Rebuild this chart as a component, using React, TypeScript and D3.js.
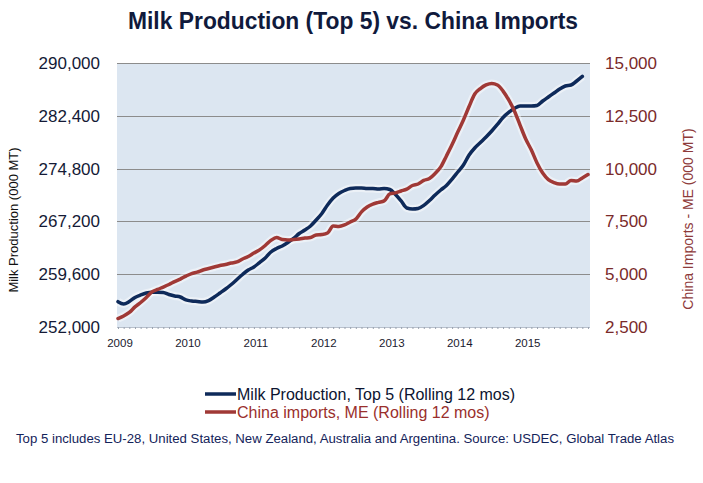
import React, { useEffect, useRef } from 'react';
import * as d3 from 'd3';

// Rolling 12-month totals, Jan 2009 .. Dec 2015 (000 MT)
const milkTop5 = [
  255640, 255310, 255670, 256250, 256610, 256890, 257000, 257000, 256970, 256680, 256460, 256320,
  255890, 255740, 255670, 255600, 255810, 256320, 256890, 257470, 258120, 258840, 259560, 260200,
  260640, 261280, 261930, 262800, 263300, 263660, 264160, 264740, 265460, 265960, 266540, 267400,
  268340, 269560, 270570, 271220, 271650, 271940, 272010, 272010, 271940, 271940, 271860, 271940,
  271790, 271070, 270140, 269130, 268990, 269060, 269500, 270210, 271000, 271720, 272370, 273300,
  274310, 275320, 276760, 277770, 278560, 279350, 280210, 281150, 282160, 282880, 283450, 283810,
  283810, 283810, 283880, 284530, 285110, 285680, 286260, 286690, 286830, 287410, 288060,
];

const chinaImports = [
  2900, 3020, 3190, 3450, 3660, 3900, 4160, 4280, 4390, 4510, 4650, 4770,
  4910, 5030, 5100, 5200, 5270, 5340, 5410, 5460, 5530, 5580, 5720, 5840,
  6000, 6150, 6360, 6600, 6740, 6640, 6620, 6640, 6670, 6710, 6740, 6860,
  6880, 6950, 7280, 7260, 7330, 7470, 7610, 7950, 8180, 8320, 8400, 8470,
  8800, 8850, 8940, 9030, 9200, 9270, 9440, 9530, 9770, 10080, 10600, 11140,
  11730, 12300, 12940, 13530, 13790, 13960, 14030, 13960, 13670, 13250, 12730, 12060,
  11400, 10880, 10270, 9790, 9480, 9340, 9270, 9270, 9440, 9410, 9560, 9720,
];

const years = ['2009', '2010', '2011', '2012', '2013', '2014', '2015'];
const leftTicks = [252000, 259600, 267200, 274800, 282400, 290000];
const rightTicks = [2500, 5000, 7500, 10000, 12500, 15000];

const title = 'Milk Production (Top 5) vs. China Imports';
const leftLabel = 'Milk Production (000 MT)';
const rightLabel = 'China Imports - ME (000 MT)';
const legendItems = ['Milk Production, Top 5 (Rolling 12 mos)', 'China imports, ME (Rolling 12 mos)'];
const footnote =
  'Top 5 includes EU-28, United States, New Zealand, Australia and Argentina. Source: USDEC, Global Trade Atlas';

const W = 703;
const H = 483;
const FONT = '"Liberation Sans", Arial, sans-serif';
const NAVY = '#0e2a5a';
const RED = '#a03936';

export default function App() {
  const svgRef = useRef<SVGSVGElement>(null);

  useEffect(() => {
    if (!svgRef.current) return;
    const svg = d3.select(svgRef.current);
    svg.selectAll('*').remove();

    const left = 117, right = 590, top = 63, bottom = 327;

    const x = d3.scaleLinear().domain([0, 83]).range([118, 588]);
    const yL = d3.scaleLinear().domain([252000, 290000]).range([bottom, top]);
    const yR = d3.scaleLinear().domain([2500, 15000]).range([bottom, top]);

    // title
    svg.append('text')
      .attr('x', 353).attr('y', 29)
      .attr('text-anchor', 'middle')
      .attr('font-family', FONT).attr('font-weight', 'bold').attr('font-size', 24)
      .attr('fill', '#101a3c')
      .attr('textLength', 450).attr('lengthAdjust', 'spacingAndGlyphs')
      .text(title);

    // plot background
    svg.append('rect')
      .attr('x', left).attr('y', top)
      .attr('width', right - left).attr('height', bottom - top)
      .attr('fill', '#dce6f1');

    // gridlines
    svg.append('g')
      .selectAll('line')
      .data(leftTicks.slice(1))
      .enter()
      .append('line')
      .attr('x1', left).attr('x2', right)
      .attr('y1', d => Math.round(yL(d)) + 0.5).attr('y2', d => Math.round(yL(d)) + 0.5)
      .attr('stroke', '#8c8c8c').attr('stroke-width', 1);

    // bottom axis with monthly minor ticks
    const xAxis = d3.axisBottom(x)
      .tickValues(d3.range(0, 84))
      .tickSize(2)
      .tickFormat(() => '');
    const gx = svg.append('g').attr('transform', `translate(0,${bottom})`).call(xAxis);
    gx.select('.domain').attr('stroke', '#b8c0cc').attr('d', `M${left},0.5H${right}`);
    gx.selectAll('.tick line').attr('stroke', '#9aa3b0');

    svg.append('g')
      .selectAll('text')
      .data(years)
      .enter()
      .append('text')
      .attr('x', (d, i) => x(i * 12) + 2)
      .attr('y', 347)
      .attr('text-anchor', 'middle')
      .attr('font-family', FONT).attr('font-size', 11.5)
      .attr('fill', '#1a1a2e')
      .text(d => d);

    // left axis labels
    svg.append('g')
      .selectAll('text')
      .data(leftTicks)
      .enter()
      .append('text')
      .attr('x', 100).attr('y', d => yL(d) + 6)
      .attr('text-anchor', 'end')
      .attr('font-family', FONT).attr('font-size', 17)
      .attr('fill', '#141a36')
      .text(d => d3.format(',')(d));

    // right axis labels
    svg.append('g')
      .selectAll('text')
      .data(rightTicks)
      .enter()
      .append('text')
      .attr('x', 605).attr('y', d => yR(d) + 6)
      .attr('text-anchor', 'start')
      .attr('font-family', FONT).attr('font-size', 17)
      .attr('fill', '#7a2a2a')
      .text(d => d3.format(',')(d));

    // axis titles
    svg.append('text')
      .attr('transform', 'translate(18,220) rotate(-90)')
      .attr('text-anchor', 'middle')
      .attr('font-family', FONT).attr('font-size', 13)
      .attr('fill', '#111')
      .text(leftLabel);

    svg.append('text')
      .attr('transform', 'translate(693,219) rotate(-90)')
      .attr('text-anchor', 'middle')
      .attr('font-family', FONT).attr('font-size', 14)
      .attr('fill', '#8e3a3a')
      .text(rightLabel);

    // lines
    const milkLine = d3.line<number>()
      .x((d, i) => x(i))
      .y(d => yL(d))
      .curve(d3.curveMonotoneX);
    const chinaLine = d3.line<number>()
      .x((d, i) => x(i))
      .y(d => yR(d))
      .curve(d3.curveMonotoneX);

    const series = [
      { data: milkTop5, gen: milkLine, color: NAVY },
      { data: chinaImports, gen: chinaLine, color: RED },
    ];

    series.forEach(s => {
      svg.append('path')
        .attr('d', s.gen(s.data))
        .attr('fill', 'none')
        .attr('stroke', '#ffffff').attr('stroke-opacity', 0.45)
        .attr('stroke-width', 8)
        .attr('stroke-linejoin', 'round');
    });
    series.forEach(s => {
      svg.append('path')
        .attr('d', s.gen(s.data))
        .attr('fill', 'none')
        .attr('stroke', s.color)
        .attr('stroke-width', 3.5)
        .attr('stroke-linejoin', 'round')
        .attr('stroke-linecap', 'round');
    });

    // legend
    const legend = svg.append('g');
    legendItems.forEach((label, i) => {
      const ly = 394 + i * 18;
      const color = i === 0 ? NAVY : RED;
      legend.append('line')
        .attr('x1', 205).attr('x2', 236)
        .attr('y1', ly).attr('y2', ly)
        .attr('stroke', color).attr('stroke-width', 3.5);
      legend.append('text')
        .attr('x', 237).attr('y', ly + 6)
        .attr('font-family', FONT).attr('font-size', 16)
        .attr('fill', i === 0 ? '#0c1430' : '#9a2f2c')
        .text(label);
    });

    // footnote
    svg.append('text')
      .attr('x', 345).attr('y', 443)
      .attr('text-anchor', 'middle')
      .attr('font-family', FONT).attr('font-size', 12.5)
      .attr('fill', '#13235a')
      .attr('textLength', 658).attr('lengthAdjust', 'spacingAndGlyphs')
      .text(footnote);
  }, []);

  return (
    <div style={{ position: 'absolute', left: 0, top: 0, width: W, height: H, background: '#fff' }}>
      <svg ref={svgRef} width={W} height={H} style={{ display: 'block' }} />
    </div>
  );
}
